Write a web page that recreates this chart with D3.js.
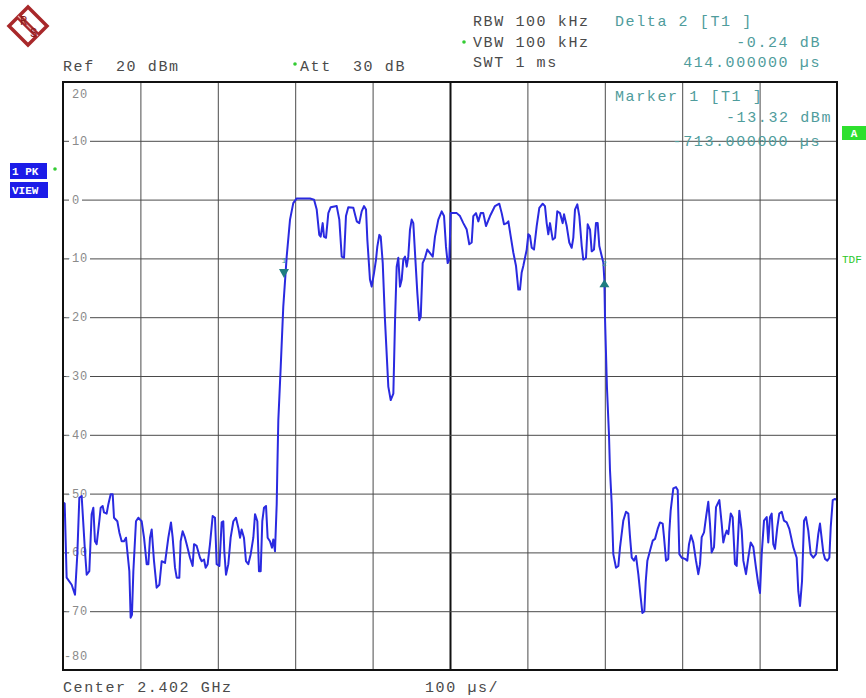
<!DOCTYPE html>
<html>
<head>
<meta charset="utf-8">
<script src="https://cdn.jsdelivr.net/npm/d3@7"></script>
<style>
  body { margin: 0; background: #fff; }
  svg text { font-family: "Liberation Mono", monospace; white-space: pre; }
</style>
</head>
<body>
<div id="chart"></div>
<script>
// trace: [time in us, level in dBm]
var leftNoise = [
  [0,-51.5],[2.2,-51.7],[4.7,-64.3],[11.2,-65.5],[15.5,-67.2],[18.5,-60.3],[21.1,-50.7],[24.1,-50.4],
  [28.4,-59.8],[30.6,-63.8],[34,-63.2],[37,-53.5],[39.2,-52.4],[41.3,-58.1],[43.5,-58.6],[46.9,-54.7],
  [48.7,-52.4],[51.2,-52.1],[53,-53.2],[56.4,-53.4],[58.6,-51.8],[61.6,-50.1],[64.2,-50.1],[65.9,-54.1],
  [70.2,-54.7],[72.8,-56.6],[75.8,-58.1],[78.8,-58.1],[81.4,-57.5],[83.1,-59.8],[85.7,-63.2],[87.4,-71.1],
  [89.1,-70.6],[90.9,-63.2],[94.3,-54.7],[97.3,-54.1],[101.6,-54.7],[104.7,-57.5],[108.1,-62],[110.3,-62],
  [112.4,-57.5],[114.6,-56.1],[117.6,-61.5],[121,-66],[124.5,-65.5],[127.5,-61.5],[131.8,-61.8],[136.1,-57.5],
  [139.5,-54.9],[141.7,-57.5],[144.7,-62.6],[146.9,-64.3],[150.3,-64.3],[152,-58.1],[154.6,-56.4],[157.6,-57.5],
  [159.8,-58.6],[164.1,-60.9],[167.5,-62.3],[169.3,-58.6],[172.7,-58.9],[177,-60.9],[179.2,-61.5],[182.2,-61.2],
  [184.3,-62.6],[186.9,-62],[189.9,-58.6],[193.4,-53.8],[196.4,-54.1],[198.5,-62],[202,-62.3],[205,-54.9],
  [207.1,-54.7],[208.4,-59.8],[210.6,-63.8],[213.6,-62],[216.6,-57.5],[220.1,-54.7],[223.5,-54.1],[226.5,-55.8],
  [228.7,-57.5],[230.8,-56.1],[233.8,-57.5],[236.4,-61.5],[239.4,-62],[242.5,-60.3],[245.9,-57.5],[248.1,-53.5],
  [251.1,-54.7],[253.2,-63.2],[255.4,-63.2],[257.5,-54.7],[259.7,-52.4],[262.3,-52.1],[264.4,-57.5],[267.4,-58.1],
  [270,-59.2],[271.7,-57.8],[273.9,-59.8],[276.1,-51.8]
];

var burst = [
  [276.9,-46],[278.2,-37.5],[281.3,-28.4],[284.6,-18.2],[289,-9.7],[293.3,-3.4],[297.5,-0.6],[301.9,0.2],
  [319.1,0.2],[324.3,0],[327.8,-1.7],[331.1,-6],[332.9,-6.3],[335.5,-4],[337.2,-6.3],[339.8,-6.5],
  [342.8,-2.3],[345.9,-1.3],[353.6,-1.1],[357,-3.4],[360.1,-9.7],[363.1,-9.9],[365.6,-2.8],[368.6,-1.3],
  [375.1,-1.4],[379.5,-3.7],[382.8,-4],[385.9,-2],[388.9,-1.1],[391.5,-1.7],[393.2,-6.8],[396.6,-13.6],
  [398.8,-14.8],[401.8,-12.5],[404.4,-10.2],[406.1,-8],[408.7,-6],[410.5,-6.3],[413.1,-10.8],[416,-20.5],
  [420.3,-31.8],[423.4,-34.1],[426.8,-33],[429,-20.5],[431.1,-11.4],[433.2,-9.9],[435.4,-14.8],[437.6,-13.6],
  [439.7,-10.2],[441.9,-9.7],[444.1,-11.4],[446.1,-9.7],[448.3,-5.1],[450.5,-3.4],[452.6,-4],[454.8,-9.1],
  [457.8,-15.9],[460.3,-20.5],[462.2,-19.9],[464.7,-10.8],[467.7,-9.9],[470.7,-8.5],[474.2,-9.1],[477.7,-9.7],
  [480.6,-6.3],[484.9,-3.4],[489.3,-2],[492.3,-2.8],[494.8,-8],[497,-10.8],[499.1,-10.2],[500.9,-2.3],
  [503.5,-2.3],[508.7,-2.3],[512.9,-2.8],[517.2,-4],[521.6,-5.1],[524.9,-7.6],[528,-7.3],[530.1,-2.8],
  [533.6,-2.3],[536.6,-3.7],[539.7,-2.3],[543,-2.3],[546.5,-4.5],[551.7,-2.8],[558.1,-1.1],[563.7,-0.7],
  [566.8,-2.3],[569.8,-4.2],[573.3,-4],[575.4,-3.7],[578.4,-6.2],[581.8,-9],[585.3,-11.3],[588.3,-15.3],
  [590.4,-15.3],[592.6,-12.4],[594.7,-11.3],[599.1,-8.5],[601.2,-5.9],[603.4,-6.2],[605.6,-8.2],[608.5,-8.5],
  [612,-4.5],[615.4,-1.4],[619.8,-0.7],[622.7,-1.1],[624.9,-4],[627,-5.9],[629.2,-4],[632.7,-6.8],
  [635.7,-6.5],[638.6,-2],[642.1,-2.3],[645.6,-4],[647.3,-2.5],[650.8,-4.5],[654.1,-7.3],[657.2,-8.2],
  [659.3,-6.5],[661.5,-1.7],[664.5,-0.8],[667.1,-2.8],[670.2,-7.9],[672.2,-10.2],[675.7,-9.9],[677.9,-4.2],
  [680.9,-5.1],[683.1,-8.8],[686,-8.5],[688.6,-4],[690.8,-4],[692.9,-7.9],[696,-9.6],[698.1,-10.7],
  [699.4,-13.6],[700.3,-20.3],[702.8,-32],[705.4,-40],[706.7,-46]
];

var rightNoise = [
  [708.9,-51.7],[711,-60.3],[714.5,-62.6],[717.5,-62.3],[719.7,-59.1],[723.9,-54.6],[727.4,-53.1],[730.4,-53.4],
  [732.6,-57.4],[734.8,-60.9],[737.7,-61.4],[740.3,-60.6],[743.3,-63.7],[746.4,-67.7],[748.5,-70.3],[751.1,-70],
  [752.9,-64.9],[755,-61.4],[758.4,-59.7],[761.9,-58],[764.9,-57.7],[768.3,-56],[771.3,-54.9],[774.8,-55.1],
  [776.5,-57.4],[779.1,-61.4],[782,-61.1],[783.3,-56.6],[785.1,-52.9],[788.5,-49.1],[792,-48.9],[794.2,-49.4],
  [796.3,-60.3],[799.4,-60.9],[803.6,-61.1],[806.6,-61.4],[808.8,-58.6],[811.4,-57.1],[814.3,-58.3],[817.8,-61.4],
  [820.8,-63.7],[823,-62],[825.2,-57.4],[828.2,-56.6],[830.8,-54],[833.7,-51.4],[835.9,-55.1],[838.1,-60],
  [841.1,-59.1],[843.7,-52.3],[848,-51.1],[851,-55.1],[853.1,-58.3],[855.3,-57.1],[857.5,-56.3],[859.6,-56.9],
  [862.7,-53.4],[865.2,-54],[868.2,-62],[870.4,-62.3],[873.8,-52.9],[876.9,-56.3],[879,-61.4],[882.4,-63.7],
  [885.4,-60.9],[888.5,-58.3],[891.9,-59.1],[895.3,-62.6],[898.3,-65.4],[900.5,-66.9],[902.7,-60.3],[905.7,-54.6],
  [909.2,-54],[911.2,-58.3],[913.4,-54],[915.6,-53.4],[917.7,-58.6],[919.9,-59.4],[922.9,-55.7],[925.4,-53.4],
  [928.6,-53.1],[931.5,-54.6],[935,-54.9],[938.4,-56],[943.5,-59.1],[947.9,-60.9],[950,-66.6],[952.2,-69.1],
  [954.8,-64.9],[957.4,-54.6],[959.9,-54],[962.9,-56.3],[966,-60.3],[969.4,-60.9],[972.9,-60.3],[975.8,-56.9],
  [978,-55.1],[982.3,-60],[984.5,-61.1],[987.5,-61.4],[990.1,-60.9],[991.9,-55.7],[994.5,-51.1],[997.4,-50.9],
  [1000,-51.1]
];

var markerTimes = [285.5, 699.5];
var markerLevels = [-13.32, -13.56];
var markerNames = ["1", "2"];

var timeTicks = [100, 200, 300, 400, 500, 600, 700, 800, 900];
var levelTicks = [10, 0, -10, -20, -30, -40, -50, -60, -70];
var levelLabels = [20, 10, 0, -10, -20, -30, -40, -50, -60, -70, -80];

var W = 866, H = 698;
var margin = {top: 82, left: 63, right: 29, bottom: 28};
var plotW = W - margin.left - margin.right;
var plotH = H - margin.top - margin.bottom;

var svg = d3.select("#chart").append("svg")
  .attr("width", W)
  .attr("height", H);

var x = d3.scaleLinear().domain([0, 1000]).range([0, plotW]);
var y = d3.scaleLinear().domain([-80, 20]).range([plotH, 0]);

var g = svg.append("g")
  .attr("transform", "translate(" + margin.left + "," + margin.top + ")");

// grid
var vGrid = g.append("g")
  .attr("transform", "translate(0," + plotH + ")")
  .call(d3.axisBottom(x).tickValues(timeTicks).tickSize(-plotH).tickFormat(""));
var hGrid = g.append("g")
  .call(d3.axisLeft(y).tickValues(levelTicks).tickSize(-plotW).tickFormat(""));
[vGrid, hGrid].forEach(function (a) {
  a.select(".domain").remove();
  a.selectAll(".tick line").attr("stroke", "#4a4a4a").attr("stroke-width", 1);
});
vGrid.selectAll(".tick line")
  .filter(function (d) { return d === 500; })
  .attr("stroke", "#111")
  .attr("stroke-width", 2);

// level labels sit on the grid lines
var lab = g.selectAll("g.lvl").data(levelLabels).enter().append("g").attr("class", "lvl");
function labelY(d) {
  if (d === 20) return y(d) + 16;
  if (d === -80) return y(d) - 10;
  return y(d) + 4;
}
lab.filter(function (d) { return d !== 20 && d !== -80; })
  .append("rect")
  .attr("x", 6)
  .attr("y", function (d) { return y(d) - 6; })
  .attr("width", function (d) { return String(Math.abs(d)).length * 8 + 5; })
  .attr("height", 12)
  .attr("fill", "#fff");
lab.append("text")
  .attr("x", function (d) { return 9 + String(Math.abs(d)).length * 8; })
  .attr("y", labelY)
  .attr("text-anchor", "end")
  .attr("font-size", 12)
  .attr("letter-spacing", 0.8)
  .attr("fill", "#8a8a8a")
  .text(function (d) { return String(d); });

// trace
g.append("clipPath").attr("id", "plotclip")
  .append("rect").attr("width", plotW).attr("height", plotH);

var line = d3.line()
  .x(function (d) { return x(d[0]); })
  .y(function (d) { return y(d[1]); });

g.append("path")
  .datum(leftNoise.concat(burst, rightNoise))
  .attr("clip-path", "url(#plotclip)")
  .attr("fill", "none")
  .attr("stroke", "#2a2ae0")
  .attr("stroke-width", 2)
  .attr("stroke-linejoin", "round")
  .attr("d", line);

// markers
markerTimes.forEach(function (t, i) {
  var mx = x(t), my = y(markerLevels[i]);
  var d = i === 0
    ? "M" + (mx - 5) + "," + (my - 9) + "L" + (mx + 5) + "," + (my - 9) + "L" + mx + "," + my + "Z"
    : "M" + (mx - 5) + "," + (my + 8) + "L" + (mx + 5) + "," + (my + 8) + "L" + mx + "," + my + "Z";
  g.append("path").attr("d", d).attr("fill", "#1f7d80");
  g.append("text")
    .attr("x", mx).attr("y", i === 0 ? my - 15 : my - 13)
    .attr("text-anchor", "middle")
    .attr("font-size", 8)
    .attr("fill", "#3a9a9a")
    .text(markerNames[i]);
});

// frame
g.append("rect")
  .attr("width", plotW).attr("height", plotH)
  .attr("fill", "none").attr("stroke", "#111").attr("stroke-width", 2);

// header and footer text
function txt(s, tx, ty, color, anchor) {
  return svg.append("text")
    .attr("x", tx).attr("y", ty)
    .attr("text-anchor", anchor || "start")
    .attr("font-size", 15)
    .attr("letter-spacing", 1.6)
    .attr("fill", color || "#4a4a4a")
    .text(s);
}
var teal = "#4f9c9c";
txt("Ref  20 dBm", 63, 71);
txt("Att  30 dB", 300, 71);
txt("RBW 100 kHz", 473, 26);
txt("VBW 100 kHz", 473, 47);
txt("SWT 1 ms", 473, 67);
txt("Delta 2 [T1 ]", 615, 26, teal);
txt("-0.24 dB", 821, 47, teal, "end");
txt("414.000000 \u00b5s", 821, 67, teal, "end");
txt("Marker 1 [T1 ]", 615, 101, teal);
txt("-13.32 dBm", 832, 122, teal, "end");
txt("-713.000000 \u00b5s", 821, 146, teal, "end");
txt("Center 2.402 GHz", 63, 692);
txt("100 \u00b5s/", 425, 692);

// green dots
[[295, 64], [464, 42], [55, 169]].forEach(function (p) {
  svg.append("circle").attr("cx", p[0]).attr("cy", p[1]).attr("r", 1.8).attr("fill", "#33cc33");
});

// trace info boxes
var blue = "#1c1ce8";
svg.append("rect").attr("x", 10).attr("y", 163).attr("width", 37).attr("height", 16).attr("fill", blue);
svg.append("rect").attr("x", 10).attr("y", 182).attr("width", 38).attr("height", 16).attr("fill", blue);
svg.append("text").attr("x", 12).attr("y", 175).attr("font-size", 11).attr("font-weight", "bold")
  .attr("fill", "#fff").text("1 PK");
svg.append("text").attr("x", 12).attr("y", 194).attr("font-size", 11).attr("font-weight", "bold")
  .attr("fill", "#fff").text("VIEW");

svg.append("rect").attr("x", 842).attr("y", 126).attr("width", 24).attr("height", 14).attr("fill", "#2ee02e");
svg.append("text").attr("x", 854).attr("y", 137).attr("text-anchor", "middle").attr("font-size", 11)
  .attr("font-weight", "bold").attr("fill", "#fff").text("A");
svg.append("text").attr("x", 842).attr("y", 263).attr("font-size", 11).attr("fill", "#2cc82c").text("TDF");

// R&S logo
var logo = svg.append("g").attr("transform", "translate(28,26)");
logo.append("path").attr("d", "M0,-19L19,0L0,19L-19,0Z")
  .attr("fill", "#fff").attr("stroke", "#a8282a").attr("stroke-width", 3.5);
logo.append("line").attr("x1", -10).attr("y1", -10).attr("x2", 10).attr("y2", 10)
  .attr("stroke", "#a8282a").attr("stroke-width", 6);
logo.append("line").attr("x1", -10).attr("y1", -10).attr("x2", 10).attr("y2", 10)
  .attr("stroke", "#e8b0b0").attr("stroke-width", 1.2);
logo.append("text").attr("x", -8).attr("y", -1).attr("font-size", 12)
  .attr("font-family", "Liberation Serif").attr("fill", "#8a1a1a").text("R");
logo.append("text").attr("x", 2).attr("y", 11).attr("font-size", 12)
  .attr("font-family", "Liberation Serif").attr("fill", "#8a1a1a").text("S");
</script>
</body>
</html>
